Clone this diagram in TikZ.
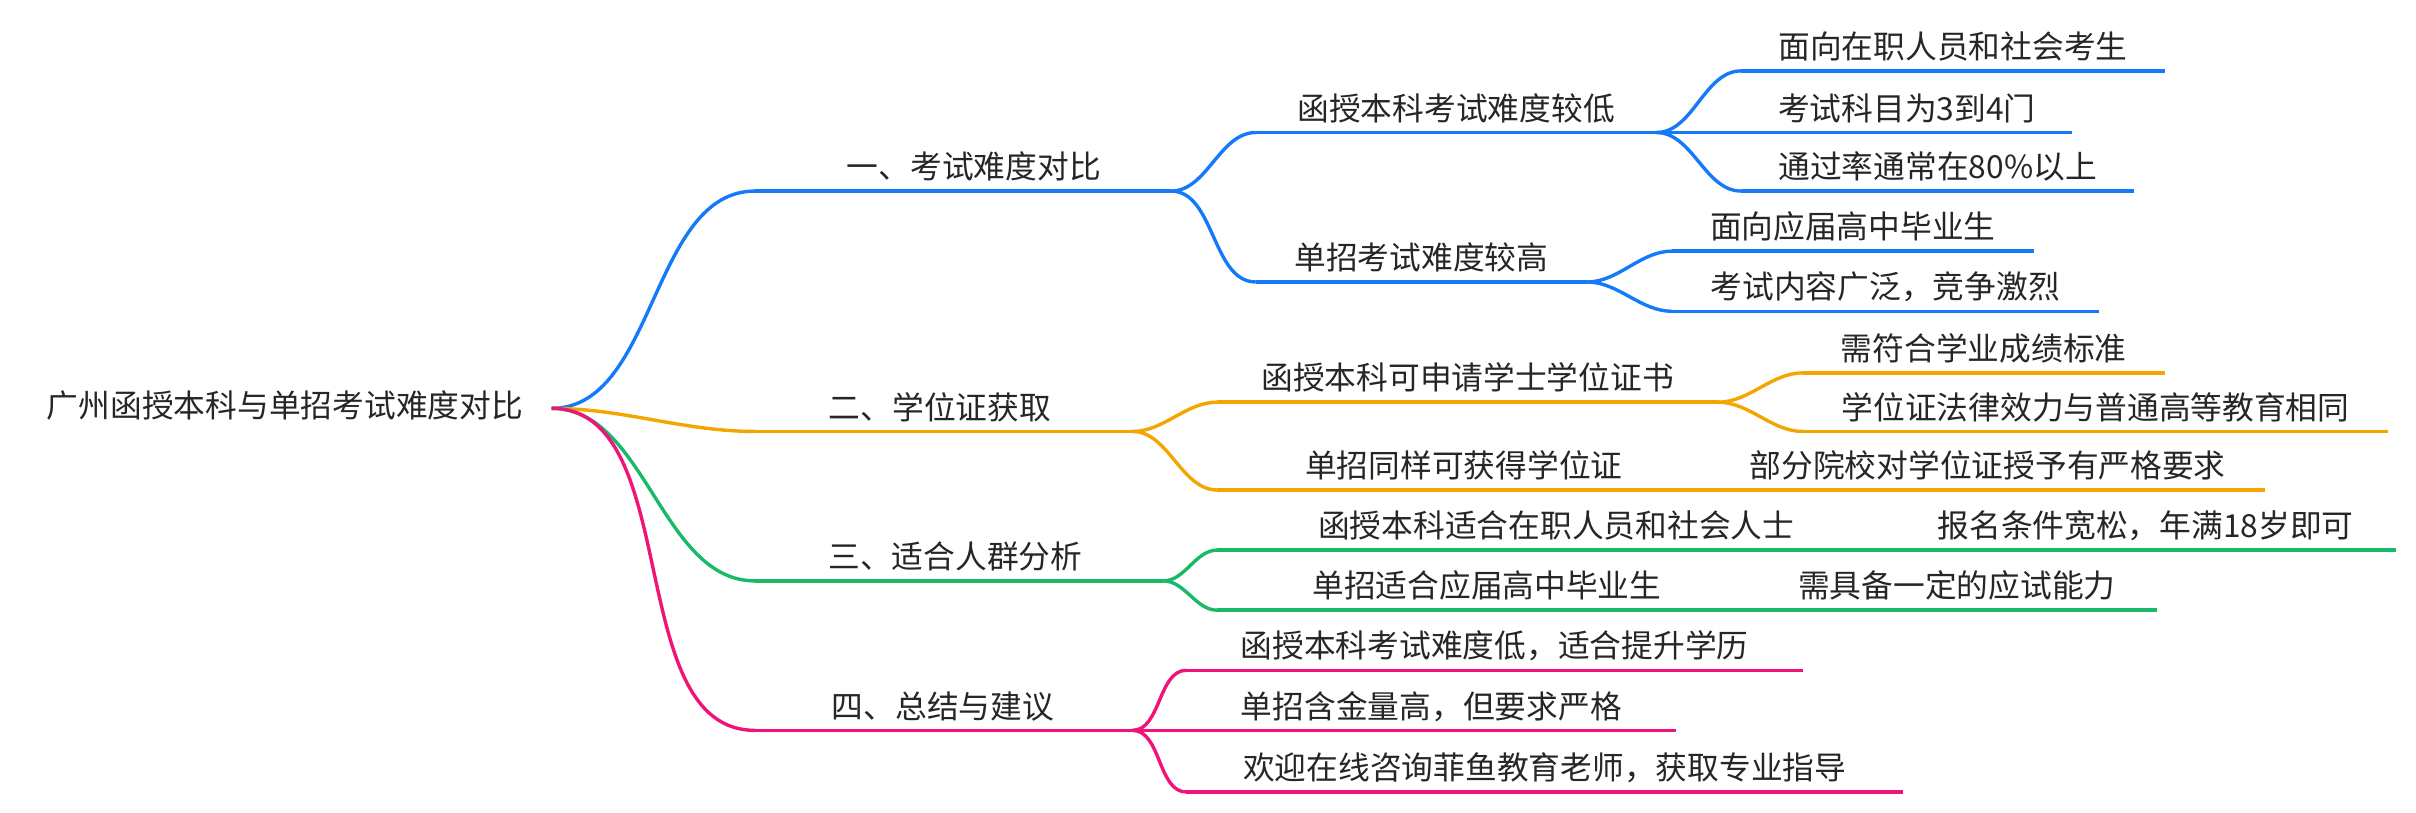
\documentclass[tikz,border=0pt]{standalone}
\usepackage{fontspec}
\setmainfont{Noto Sans CJK SC}
\begin{document}
\begin{tikzpicture}[x=0.5pt,y=-0.5pt,
 t/.style={font=\fontsize{10.3}{12}\selectfont,text=black!85,inner sep=0pt,anchor=base},
 ln/.style={line width=1.1pt},
 cv/.style={line width=1.1pt,out=0,in=180,looseness=0.9}]
\definecolor{cb}{RGB}{20,122,250}
\definecolor{co}{RGB}{245,165,0}
\definecolor{cg}{RGB}{25,185,105}
\definecolor{cp}{RGB}{240,20,120}
\useasboundingbox (0,0) rectangle (1568,527);
\node[t] (root) at (185,271) {广州函授本科与单招考试难度对比};
\coordinate (R) at (358,265);
% level 1
\foreach \n/\c/\y/\e/\tx/\lab in {A/cb/124/760/632/一、考试难度对比, B/co/280/735/610/二、学位证获取, C/cg/377/755/620/三、适合人群分析, D/cp/474/735/612/四、总结与建议}{
  \coordinate (\n s) at (490,\y); \coordinate (\n e) at (\e,\y);
  \node[t] (\n t) at (\tx,\y-8) {\lab};
  \draw[\c,cv] (R) to (\n s); \draw[\c,ln] (\n s) -- (\n e);
}
% level 2 and 3 helper
\newcommand\br[7]{% color, from, name, x1, x2, y, text
  \coordinate (#3s) at (#4,#6); \coordinate (#3e) at (#5,#6);
  \node[t] (#3t) at ({(#4+#5)/2},#6-8) {#7};
  \draw[#1,cv] (#2) to (#3s); \draw[#1,ln] (#3s) -- (#3e);}
\br{cb}{Ae}{A1}{815}{1075}{86}{函授本科考试难度较低}
\br{cb}{Ae}{A2}{815}{1030}{183}{单招考试难度较高}
\br{cb}{A1e}{A11}{1130}{1405}{46}{面向在职人员和社会考生}
\br{cb}{A1e}{A12}{1130}{1345}{86}{考试科目为3到4门}
\br{cb}{A1e}{A13}{1130}{1385}{124}{通过率通常在80\%以上}
\br{cb}{A2e}{A21}{1085}{1320}{163}{面向应届高中毕业生}
\br{cb}{A2e}{A22}{1085}{1362}{202}{考试内容广泛，竞争激烈}
\br{co}{Be}{B1}{790}{1115}{261}{函授本科可申请学士学位证书}
\br{co}{Be}{B2}{790}{1110}{318}{单招同样可获得学位证}
\br{co}{B1e}{B11}{1170}{1405}{242}{需符合学业成绩标准}
\br{co}{B1e}{B12}{1170}{1550}{280}{学位证法律效力与普通高等教育相同}
\br{co}{B2e}{B21}{1110}{1470}{318}{部分院校对学位证授予有严格要求}
\br{cg}{Ce}{C1}{790}{1230}{357}{函授本科适合在职人员和社会人士}
\br{cg}{Ce}{C2}{790}{1140}{396}{单招适合应届高中毕业生}
\br{cg}{C1e}{C11}{1230}{1555}{357}{报名条件宽松，年满18岁即可}
\br{cg}{C2e}{C21}{1140}{1400}{396}{需具备一定的应试能力}
\br{cp}{De}{D1}{770}{1170}{435}{函授本科考试难度低，适合提升学历}
\br{cp}{De}{D2}{770}{1088}{474}{单招含金量高，但要求严格}
\br{cp}{De}{D3}{770}{1235}{514}{欢迎在线咨询菲鱼教育老师，获取专业指导}
\end{tikzpicture}
\end{document}
